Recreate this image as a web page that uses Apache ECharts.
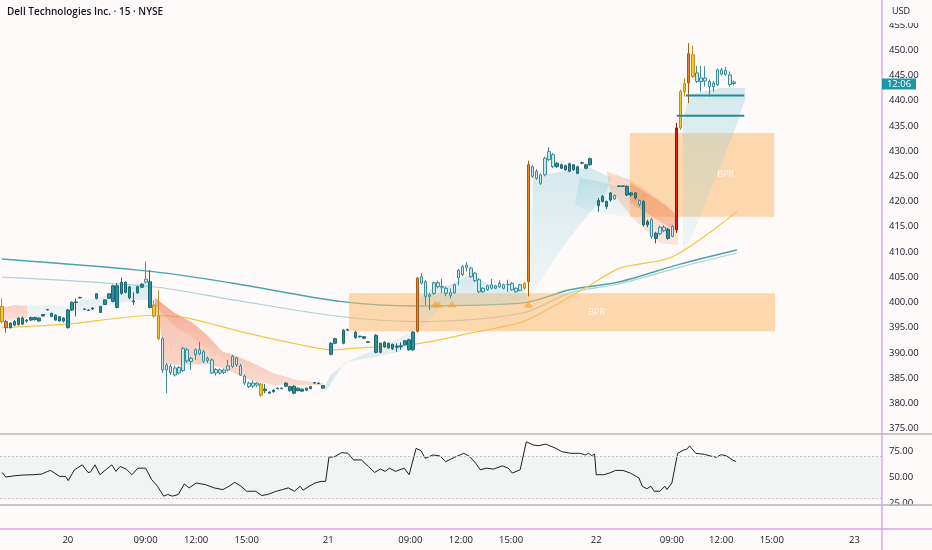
<!DOCTYPE html>
<html><head><meta charset="utf-8">
<script src="https://cdn.jsdelivr.net/npm/echarts@6/dist/echarts.min.js"></script>
<style>html,body{margin:0;padding:0;background:#fffafa;}#c{width:932px;height:550px;}</style>
</head><body><div id="c"></div>
<script>
// ---------- DATA ----------
const titleText = 'Dell Technologies Inc. · 15 · NYSE';
const currencyText = 'USD';
const countdownText = '12:06';
const lastPrice = 443.3;

// bar slot, open, close, low, high
const candles = [
[0,399.2,396.2,395.8,400.8],[1,396.2,395.0,394.0,396.6],[2,395.0,395.9,394.8,396.0],[3,395.5,396.2,395.3,396.5],
[4,395.6,396.9,395.4,397.0],[5,396.9,395.7,395.5,397.2],[6,396.3,396.5,396.0,396.7],[7,396.5,397.0,396.3,397.2],
[8,397.0,396.6,396.4,397.2],[9,396.9,396.3,396.2,397.0],[10,397.3,397.6,397.2,397.7],[11,398.5,398.6,398.4,398.7],
[12,397.8,397.2,397.1,398.0],[13,397.5,396.5,396.4,397.6],[14,397.2,396.3,396.2,397.3],[15,396.3,396.9,396.0,397.0],
[16,395.0,398.5,394.8,398.7],[17,398.5,400.0,398.3,400.2],[18,400.0,400.1,397.2,400.8],[19,400.9,401.0,400.8,401.1],
[20,398.6,398.7,398.5,398.8],[21,398.5,398.4,398.3,398.6],[22,398.7,398.9,398.5,399.0],[23,400.8,401.7,400.6,401.8],
[24,399.2,398.0,397.9,399.3],[25,399.6,400.5,399.5,400.6],[26,400.8,401.7,400.7,401.8],[27,400.2,403.3,400.0,403.5],
[28,403.3,399.0,398.8,403.8],[29,401.8,404.0,401.5,404.9],[30,404.0,402.0,401.8,404.2],[31,403.1,400.9,400.6,403.3],
[32,400.1,400.3,399.5,402.0],[33,401.9,403.1,401.7,403.3],[34,403.0,403.6,402.9,403.8],[35,404.0,404.6,403.8,408.1],
[36,404.1,399.0,398.8,406.4],[37,399.5,397.3,397.0,400.5],[38,397.3,392.8,392.5,402.4],
[39,392.8,386.6,386.0,393.2],[40,386.6,387.6,382.0,388.0],[41,387.3,386.1,385.6,387.8],[42,387.0,385.6,385.3,387.5],
[43,386.0,387.1,385.7,387.4],[44,386.5,390.9,386.2,391.2],[45,390.6,388.4,388.0,391.0],[46,388.3,388.9,386.6,389.2],
[47,389.6,390.6,388.6,390.9],[48,390.6,389.8,389.5,392.2],[49,390.2,388.3,388.0,390.6],[50,388.5,388.9,388.0,389.3],
[51,388.6,386.0,385.8,388.9],[52,386.0,386.7,385.5,387.0],[53,386.6,386.0,385.7,386.9],[54,386.1,386.6,385.8,386.9],
[55,386.6,387.4,386.3,388.6],[56,387.3,389.3,387.0,389.6],[57,389.0,387.6,387.2,389.2],[58,387.4,385.6,385.4,387.8],
[59,385.4,384.0,383.6,385.7],[60,384.0,383.3,383.0,384.3],[61,383.4,384.0,383.0,384.5],[62,384.0,383.6,383.2,384.2],
[63,383.8,381.6,381.3,384.0],
[64,382.5,382.8,382.0,383.8],[65,382.0,382.2,381.9,382.4],[66,382.3,382.6,382.1,382.8],[67,382.9,383.0,382.8,383.1],
[68,382.9,383.0,382.8,383.1],[69,383.4,384.0,383.2,384.2],[70,383.3,382.5,382.3,383.5],[71,382.0,383.4,381.8,383.6],
[72,383.0,382.5,382.4,383.1],[73,382.4,382.8,382.3,382.9],[74,382.6,383.0,382.5,383.1],[75,382.9,383.3,382.8,383.4],
[76,384.0,384.1,383.9,384.2],[77,383.9,384.0,383.8,384.1],[78,383.0,383.5,382.9,383.6],
[80,389.7,391.9,389.5,392.1],[81,391.9,392.8,391.7,393.0],[83,391.9,394.5,391.7,394.7],[84,394.5,394.6,394.3,394.8],
[86,394.1,393.0,392.8,394.3],[87,393.2,393.3,393.0,393.4],[88,393.2,392.9,392.7,393.3],[89,392.1,392.2,392.0,392.3],
[91,393.5,390.1,389.9,393.7],[92,390.1,391.9,389.9,392.0],[93,392.1,391.2,391.0,392.3],[94,391.0,391.9,390.8,392.0],
[95,391.7,390.8,390.6,391.8],[96,391.1,391.3,390.2,391.9],[97,391.4,391.2,390.6,392.1],[98,391.6,392.4,391.4,392.5],
[99,392.6,390.6,390.4,392.8],[100,390.6,394.1,390.4,394.3],[101,394.3,404.8,394.0,405.0],
[102,403.8,405.1,403.5,405.8],[103,404.1,401.2,399.5,404.4],[104,401.2,401.5,398.5,401.9],[105,401.8,403.9,401.5,404.1],
[106,403.1,403.9,402.8,404.3],[107,403.2,403.0,401.8,404.7],[108,402.8,401.8,401.2,403.1],[109,402.0,401.4,400.8,402.8],
[110,401.9,403.5,401.7,403.7],[111,404.9,406.4,403.4,406.6],[112,405.5,407.1,405.2,407.4],[113,406.9,407.4,406.1,408.0],
[114,406.8,405.1,404.9,407.1],[115,405.8,404.3,404.0,406.0],[116,404.5,402.1,401.8,404.8],[117,402.1,402.8,401.9,403.0],
[118,402.5,403.3,402.3,403.5],[119,403.5,402.8,402.6,404.7],[120,402.8,403.3,402.6,403.5],[121,403.1,403.8,402.9,404.4],
[122,403.5,402.8,402.6,403.7],[123,403.6,403.5,402.1,404.5],[124,403.8,402.5,402.3,404.0],[125,402.8,402.1,401.9,403.0],
[126,402.4,403.5,402.2,403.7],[127,402.8,403.8,402.5,404.0],[128,404.1,427.3,401.2,428.1],
[129,426.9,425.0,424.7,427.2],[130,424.6,426.0,424.3,426.4],[131,425.3,423.6,423.3,425.6],[132,425.3,428.6,425.0,428.9],
[133,428.3,429.9,428.0,430.8],[134,429.3,426.9,426.6,429.6],[135,426.9,427.6,426.7,427.8],[136,427.3,426.6,426.4,427.5],
[137,426.3,427.1,426.1,427.3],[138,427.5,426.0,425.8,427.7],[139,426.3,427.3,426.1,427.4],[140,426.9,425.6,425.4,427.1],
[141,427.6,427.7,427.4,427.9],[142,426.6,427.3,426.4,427.5],[143,427.3,428.5,427.1,428.7],
[145,420.2,419.2,418.0,420.7],[146,420.0,421.0,419.8,421.3],[147,420.0,419.0,418.5,420.2],[148,420.3,421.7,420.0,421.9],
[149,421.2,420.5,420.3,421.4],[150,423.0,423.1,422.9,423.2],[151,423.1,423.0,422.9,423.2],[152,423.0,421.3,421.1,423.2],
[153,421.3,421.7,421.0,421.9],[154,421.7,420.7,420.4,421.9],[155,420.2,419.4,419.0,420.4],[156,420.0,415.4,415.0,420.3],
[157,415.4,416.0,414.9,416.4],[158,416.4,413.1,412.6,416.8],[159,413.7,412.7,411.7,414.0],[160,413.6,414.9,413.3,415.2],
[161,414.9,414.2,413.9,415.3],[162,414.5,412.7,412.4,414.8],[163,413.1,415.1,412.9,415.3],
[164,414.4,434.6,413.8,435.6],[165,434.6,441.8,434.2,442.2],[166,441.8,443.4,440.8,444.5],[167,443.5,449.3,439.5,451.4],
[168,449.1,444.8,444.5,450.9],[169,445.5,443.8,443.5,446.9],[170,443.8,444.5,441.8,446.9],[171,444.5,443.9,442.8,446.8],
[172,443.8,442.8,440.8,444.2],[173,442.8,443.5,441.8,443.9],[174,443.2,446.1,442.9,446.4],[175,446.1,445.3,445.0,446.5],
[176,445.2,446.0,444.9,446.7],[177,445.1,443.2,442.8,445.8],[178,443.4,443.7,443.0,444.0]
];

// sessions / highlighted bars (slot numbers)
const regularSessions = [[39,63],[102,127],[164,178]];
const hollowExtended = [35,129,130,131,132,133,134,149,155,158,160,161,163];
const yellowBars = [0,37,38,63,127,165,166,168];
const orangeBars = [1,101,128,167];
const redBars = [164];

// moving averages: [slot, price]
const maSlow = [[0,408.6],[36.7,406.1],[56.2,403.8],[82.2,400.2],[100.9,399.3],[126.7,399.9],[138.1,402.5],[150.3,404.1],[164.9,407.6],[178.7,410.4]];
const maMid  = [[0,405.0],[36.7,403.1],[56.2,400.5],[82.2,397.2],[100.9,396.2],[126.7,397.9],[138.1,401.9],[150.3,403.7],[164.9,407.0],[178.7,409.8]];
const maFast = [[0,395.0],[15.8,395.7],[36.7,397.4],[45.0,396.9],[59.6,393.9],[72.5,391.6],[80.5,390.6],[85.3,390.9],[100.9,391.8],[113.8,393.9],[126.7,396.2],[134.0,399.2],[142.3,403.1],[150.3,406.8],[163.2,409.1],[178.7,418.0]];

// RSI: [slot, value]
const rsi = [[0,54.4],[0.9,50.0],[3.1,51.2],[5.3,51.9],[7.5,52.2],[9.6,52.8],[11.1,55.4],[11.8,56.3],[14.0,50.6],[15.4,50.6],[16.1,46.5],[17.6,56.9],[19.5,61.7],[20.9,54.4],[21.5,54.7],[22.6,61.7],[23.8,52.2],[25.2,56.9],[26.7,61.7],[27.7,55.4],[28.7,60.1],[30.2,57.6],[31.6,52.2],[33.0,58.5],[34.9,58.5],[36.4,47.4],[37.8,41.1],[39.3,31.6],[40.3,33.2],[41.4,31.6],[42.9,33.2],[44.3,43.3],[45.5,39.5],[47.2,44.2],[49.4,42.7],[51.6,39.5],[53.7,37.9],[55.2,41.1],[56.6,44.9],[58.1,41.1],[59.5,36.3],[61.7,36.3],[63.1,32.2],[64.6,33.2],[66.7,36.3],[68.2,37.9],[69.6,39.5],[71.1,36.3],[72.5,41.1],[73.2,37.3],[74.7,41.1],[76.1,44.2],[77.6,45.8],[78.7,45.8],[79.5,69.0],[80.9,69.6],[82.6,73.4],[84.1,72.8],[85.5,66.4],[87.4,66.4],[89.1,60.1],[90.6,54.4],[92.0,57.6],[93.2,55.4],[94.2,58.5],[95.7,55.4],[97.8,58.5],[99.0,52.2],[100.7,77.5],[101.9,75.3],[102.9,68.0],[104.8,71.2],[106.5,70.2],[107.9,64.8],[110.1,69.0],[112.3,72.8],[113.7,69.6],[115.2,63.3],[116.3,56.9],[117.8,58.5],[119.5,57.6],[121.7,60.7],[123.1,58.5],[124.1,53.8],[126.0,56.9],[127.5,83.9],[129.2,80.7],[130.4,80.1],[132.2,81.6],[132.8,80.7],[134.7,77.5],[136.1,74.4],[138.3,72.8],[140.5,72.8],[141.9,71.2],[142.6,72.8],[143.4,70.6],[144.1,72.1],[144.5,52.2],[146.3,52.2],[147.7,53.8],[149.2,56.3],[151.0,56.3],[152.8,53.8],[154.2,50.6],[154.9,49.0],[155.7,41.1],[156.8,38.6],[157.8,41.1],[158.6,36.3],[160.0,36.3],[161.2,41.1],[161.7,37.9],[162.9,44.2],[164.3,72.8],[165.8,76.0],[166.5,76.6],[167.2,79.8],[168.7,72.8],[170.8,71.8],[172.3,70.2],[173.7,69.0],[174.9,71.5],[176.2,70.2],[177.6,66.4],[178.5,64.8]];
const rsiBand = [30, 70];

// BPR zones: [startSlot, endSlot, low, high]
const bprZones = [[84.4,188.0,394.3,401.8],[152.7,187.8,417.0,433.6]];
const bprLabelSlot = [144.6,176.0];
const bprLabel = 'BPR';

// level lines: [startSlot, endSlot, price]
const levels = [[166.3,180.5,441.0],[164.1,180.5,437.0]];

// signal triangles: [slot, price]
const signals = [[105.3,399.7],[106.1,399.7],[109.4,399.7],[128.0,399.7]];

// trend ribbons: polygons of [slot, price]
const ribbons = [
 [[-0.5,398.9],[3.1,399.5],[6.1,399.3],[6.1,396.9],[1.9,396.5],[-0.5,396.9]],
 [[6.1,399.3],[11.7,399.5],[15.8,399.1],[19.0,400.5],[23.8,400.9],[28.7,402.5],[33.5,403.7],[36.5,404.1],[36.5,400.5],[33.5,400.5],[28.7,399.9],[23.8,398.9],[19.0,398.1],[11.7,397.3],[6.1,396.9]],
 [[37.2,400.9],[41.6,398.1],[46.4,395.9],[49.8,393.6],[53.7,390.2],[56.2,389.6],[61.0,388.0],[65.9,386.0],[71.7,384.6],[78.1,384.0],[78.1,383.6],[65.9,383.6],[60.3,384.6],[53.7,387.0],[49.8,387.8],[42.5,387.6],[39.5,387.8],[38.5,395.0],[37.2,399.0]],
 [[37.2,400.9],[41.6,398.1],[46.4,395.9],[49.8,393.6],[53.7,390.2],[56.2,389.6],[61.0,388.0],[65.9,386.0],[71.7,384.6],[78.1,384.0],[78.1,383.8],[71.7,384.2],[65.9,385.0],[61.0,386.6],[56.2,388.0],[53.7,388.8],[49.8,391.0],[46.4,393.0],[41.6,395.5],[37.2,399.5]],
 [[78.1,382.2],[79.8,385.6],[84.6,388.6],[91.9,391.0],[98.0,393.6],[100.4,395.5],[100.9,391.6],[96.8,390.2],[89.5,389.0],[83.4,388.2],[79.8,383.6]],
 [[101.2,400.5],[104.1,402.5],[108.9,403.5],[113.8,405.5],[118.7,403.5],[127.2,402.5],[127.7,400.5],[121.1,399.5],[113.8,399.5],[106.5,398.9],[101.6,394.5]],
 [[128.4,401.5],[129.1,424.7],[135.7,425.9],[143.0,426.7],[148.3,424.7],[146.6,421.3],[140.5,415.4],[134.5,408.8],[129.6,402.5]],
 [[140.5,424.7],[145.4,423.9],[151.5,422.7],[153.2,420.3],[152.7,417.0],[147.8,417.4],[143.0,417.9],[139.3,419.3]],
 [[147.1,425.9],[152.7,424.3],[160.0,420.3],[164.4,417.4],[164.4,411.4],[160.0,411.8],[155.1,415.4],[152.7,417.4],[147.8,422.3]],
 [[152.7,423.7],[157.6,421.3],[161.2,419.3],[164.4,417.0],[164.4,414.0],[160.0,416.0],[156.4,417.9],[152.7,419.7]],
 [[165.6,436.2],[167.3,441.2],[174.6,442.5],[180.7,442.5],[180.7,440.2],[178.2,434.2],[173.4,424.3],[168.5,414.4],[165.6,409.4]]
];

// time axis ticks
const timeTickSlots = [16.0,34.9,47.2,59.5,79.3,99.3,111.6,123.8,144.5,162.9,174.9,187.2,207.3];
const timeTickLabels = ['20','09:00','12:00','15:00','21','09:00','12:00','15:00','22','09:00','12:00','15:00','23'];

// ---------- STYLES ----------
const CY = ['rgba(150,208,216,0.40)','rgba(150,208,216,0.12)'];
const ribbonFills = [
 ['rgba(244,160,130,0.45)','rgba(244,160,130,0.30)'], CY,
 ['rgba(240,140,105,0.55)','rgba(244,165,135,0.38)'], ['rgba(234,118,82,0.28)','rgba(240,140,105,0.0)'],
 ['rgba(150,208,216,0.15)','rgba(150,208,216,0.45)'], CY, CY, CY,
 ['rgba(244,175,140,0.45)','rgba(244,175,140,0.30)'], ['rgba(238,135,80,0.45)','rgba(238,135,80,0.35)'], CY
];
const FONT = '"Open Sans", "Noto Sans", sans-serif';
const BG = '#fffafa';

function inRanges(i, ranges){ return ranges.some(r => i >= r[0] && i <= r[1]); }
function candleStyle(i){
  let fill, border;
  if (redBars.includes(i)) { fill = '#e0201c'; border = '#8f1410'; }
  else if (orangeBars.includes(i)) { fill = '#e8832a'; border = '#a85a14'; }
  else if (yellowBars.includes(i)) { fill = '#f6c42b'; border = '#b8901a'; }
  else if (inRanges(i, regularSessions) || hollowExtended.includes(i)) { fill = '#c9e9ee'; border = '#3a8e9a'; }
  else { fill = '#2e8e9c'; border = '#1d6873'; }
  return { color: fill, color0: fill, borderColor: border, borderColor0: border };
}

const XMIN = -0.5, XMAX = 214;
const chart = echarts.init(document.getElementById('c'));
chart.setOption({
  backgroundColor: BG,
  animation: false,
  textStyle: { fontFamily: FONT },
  grid: [
    { left: 0, right: 50, top: 25, height: 403.5 },
    { left: 0, right: 50, top: 451, height: 52 }
  ],
  xAxis: [
    { type: 'value', gridIndex: 0, min: XMIN, max: XMAX, show: false },
    { type: 'value', gridIndex: 1, min: XMIN, max: XMAX,
      axisLine: { show: false }, axisTick: { show: false }, splitLine: { show: false },
      axisLabel: { customValues: timeTickSlots, margin: 32, fontSize: 9.5, color: '#131722', fontFamily: FONT,
        formatter: v => { let k = 0, d = 1e9; timeTickSlots.forEach((s, j) => { if (Math.abs(s - v) < d) { d = Math.abs(s - v); k = j; } }); return timeTickLabels[k]; } } }
  ],
  yAxis: [
    { type: 'value', gridIndex: 0, position: 'right', min: 375, max: 455, interval: 5,
      axisLine: { show: false }, axisTick: { show: false }, splitLine: { show: false },
      axisLabel: { fontSize: 9.5, color: '#131722', margin: 7, fontFamily: FONT, formatter: v => v.toFixed(2) } },
    { type: 'value', gridIndex: 1, position: 'right', min: 25, max: 75, interval: 25,
      axisLine: { show: false }, axisTick: { show: false }, splitLine: { show: false },
      axisLabel: { fontSize: 9.5, color: '#131722', margin: 7, fontFamily: FONT, formatter: v => v.toFixed(2) } }
  ],
  series: [
    { type: 'line', xAxisIndex: 0, yAxisIndex: 0, z: 1, data: maSlow, showSymbol: false, smooth: 0.3, silent: true,
      lineStyle: { color: '#4aa2ac', width: 1.4 } },
    { type: 'line', xAxisIndex: 0, yAxisIndex: 0, z: 1, data: maMid, showSymbol: false, smooth: 0.3, silent: true,
      lineStyle: { color: '#a6d4d8', width: 1.2 } },
    { type: 'line', xAxisIndex: 0, yAxisIndex: 0, z: 1, data: maFast, showSymbol: false, smooth: 0.3, silent: true,
      lineStyle: { color: '#f6c544', width: 1.2 } },
    { type: 'custom', xAxisIndex: 0, yAxisIndex: 0, z: 2, silent: true,
      data: bprZones.map(b => [b[0], b[2]]),
      renderItem: (params, api) => {
        const b = bprZones[params.dataIndex];
        const p0 = api.coord([b[0], b[3]]);
        const p1 = api.coord([b[1], b[2]]);
        const t = api.coord([bprLabelSlot[params.dataIndex], (b[2] + b[3]) / 2]);
        return { type: 'group', children: [
          { type: 'rect', shape: { x: p0[0], y: p0[1], width: p1[0] - p0[0], height: p1[1] - p0[1] },
            style: { fill: 'rgba(251,186,110,0.55)' } },
          { type: 'text', x: t[0], y: t[1], z2: 10,
            style: { text: bprLabel, fill: 'rgba(255,255,255,0.8)', font: '9px ' + FONT, align: 'center', verticalAlign: 'middle' } }
        ] };
      } },
    { type: 'custom', xAxisIndex: 0, yAxisIndex: 0, z: 3, silent: true,
      data: ribbons.map(r => [r[0][0], r[0][1]]),
      renderItem: (params, api) => {
        const f = ribbonFills[params.dataIndex];
        return {
          type: 'polygon',
          shape: { points: ribbons[params.dataIndex].map(p => api.coord(p)) },
          style: { fill: new echarts.graphic.LinearGradient(0, 0, 0, 1, [{ offset: 0, color: f[0] }, { offset: 1, color: f[1] }]) }
        };
      } },
    { type: 'candlestick', xAxisIndex: 0, yAxisIndex: 0, z: 4, barWidth: 3, silent: true,
      encode: { x: 0, y: [1, 2, 3, 4] },
      data: candles.map(d => ({ value: d, itemStyle: Object.assign({ borderWidth: 1 }, candleStyle(d[0])) })) },
    ...levels.map(l => ({ type: 'line', xAxisIndex: 0, yAxisIndex: 0, z: 5, showSymbol: false, silent: true,
      data: [[l[0], l[2]], [l[1], l[2]]], lineStyle: { color: '#1d8c9b', width: 2 } })),
    { type: 'scatter', xAxisIndex: 0, yAxisIndex: 0, z: 5, silent: true, data: signals,
      symbol: 'triangle', symbolSize: [9, 7], itemStyle: { color: 'rgba(246,162,45,0.8)' } },
    { type: 'line', xAxisIndex: 1, yAxisIndex: 1, z: 3, data: rsi, showSymbol: false, clip: false, silent: true,
      lineStyle: { color: '#1e1e1e', width: 1 },
      markArea: { silent: true, itemStyle: { color: '#f0f4f3' }, data: [[{ yAxis: rsiBand[0] }, { yAxis: rsiBand[1] }]] },
      markLine: { silent: true, symbol: 'none', label: { show: false },
        lineStyle: { color: '#c6c6c6', type: [2, 2], width: 1 },
        data: [{ yAxis: rsiBand[0] }, { yAxis: rsiBand[1] }] } }
  ]
});

// price tag for the last price, positioned through the price axis scale
const tagY = chart.convertToPixel({ yAxisIndex: 0 }, lastPrice);
chart.setOption({
  graphic: [
    { type: 'rect', z: 100, shape: { x: 883, y: 0, width: 49, height: 23 }, style: { fill: BG } },
    { type: 'rect', z: 100, shape: { x: 883, y: 505.5, width: 49, height: 23 }, style: { fill: BG } },
    { type: 'text', z: 101, x: 892, y: 11.5, style: { text: currencyText, font: '9px ' + FONT, fill: '#131722', verticalAlign: 'middle' } },
    { type: 'text', z: 101, x: 7, y: 12, style: { text: titleText, font: '600 10px ' + FONT, fill: '#131722', verticalAlign: 'middle' } },
    { type: 'rect', z: 104, shape: { x: 882, y: tagY - 5.5, width: 34, height: 11 }, style: { fill: '#2196a9' } },
    { type: 'text', z: 105, x: 899, y: tagY, style: { text: countdownText, font: '9.5px ' + FONT, fill: '#ffffff', align: 'center', verticalAlign: 'middle' } },
    { type: 'line', z: 102, shape: { x1: 0, y1: 434, x2: 932, y2: 434 }, style: { stroke: '#b6b6b6', lineWidth: 1.6 } },
    { type: 'line', z: 102, shape: { x1: 0, y1: 505, x2: 932, y2: 505 }, style: { stroke: '#b6b6b6', lineWidth: 1.6 } },
    { type: 'line', z: 103, shape: { x1: 0, y1: 529, x2: 932, y2: 529 }, style: { stroke: '#dca3e2', lineWidth: 1.4 } },
    { type: 'line', z: 103, shape: { x1: 882, y1: 0, x2: 882, y2: 550 }, style: { stroke: '#dca3e2', lineWidth: 1.4 } }
  ]
});
</script>
</body></html>
